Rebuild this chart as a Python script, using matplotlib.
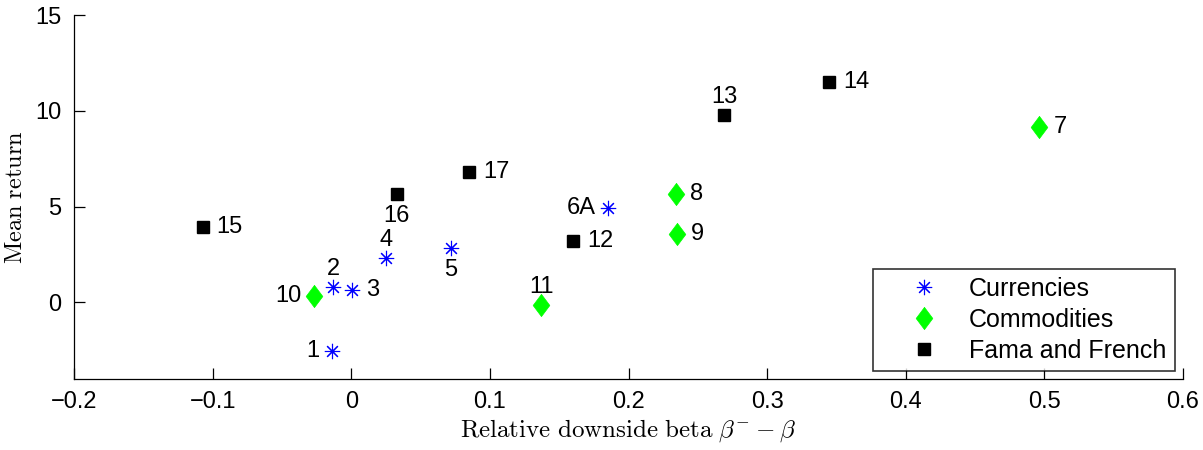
import matplotlib.pyplot as plt

plt.rcParams["font.family"] = ["Liberation Sans", "DejaVu Sans"]
plt.rcParams["mathtext.fontset"] = "cm"

# =========================================
# Data
# =========================================
cur_labels = ["1", "2", "3", "4", "5", "6A"]
cur_x = [-0.0137, -0.0132, 0.0005, 0.0248, 0.0717, 0.1854]
cur_y = [-2.52, 0.80, 0.66, 2.31, 2.85, 4.90]

com_labels = ["7", "8", "9", "10", "11"]
com_x = [0.4964, 0.2345, 0.2350, -0.0272, 0.1371]
com_y = [9.14, 5.65, 3.57, 0.31, -0.14]

ff_labels = ["12", "13", "14", "15", "16", "17"]
ff_x = [0.1602, 0.2690, 0.3449, -0.1073, 0.0327, 0.0849]
ff_y = [3.20, 9.78, 11.49, 3.91, 5.65, 6.78]

# where each label sits relative to its marker
label_side = {
    "1": "l", "2": "a", "3": "r", "4": "a", "5": "b", "6A": "l",
    "7": "r", "8": "r", "9": "r", "10": "l", "11": "a",
    "12": "r", "13": "a", "14": "r", "15": "r", "16": "b", "17": "r",
}
offsets = {
    "r": ((10, 0), "left", "center"),
    "l": ((-9, 0), "right", "center"),
    "a": ((0, 5), "center", "bottom"),
    "b": ((0, -8), "center", "top"),
}

# MATLAB-style diamond (wider than matplotlib's 'd')
diamond = [(0, 1), (0.75, 0), (0, -1), (-0.75, 0), (0, 1)]

# =========================================
# Plot
# =========================================
fig = plt.figure(figsize=(12.03, 4.5), dpi=100)
ax = fig.add_axes([74 / 1203, 71 / 450, 1109 / 1203, 364 / 450])

ax.plot(cur_x, cur_y, linestyle="none", marker=(8, 2, 0), markersize=11,
        markeredgewidth=0.8, color="#0000ff", label="Currencies")
ax.plot(com_x, com_y, linestyle="none", marker=diamond, markersize=16,
        color="#00ff00", markeredgecolor="#00ff00", markeredgewidth=0.5,
        label="Commodities")
ax.plot(ff_x, ff_y, linestyle="none", marker="s", markersize=8,
        color="black", label="Fama and French")

for labels, xs, ys in [(cur_labels, cur_x, cur_y), (com_labels, com_x, com_y),
                       (ff_labels, ff_x, ff_y)]:
    for lab, x, y in zip(labels, xs, ys):
        off, ha, va = offsets[label_side[lab]]
        ax.annotate(lab, (x, y), xytext=off, textcoords="offset points",
                    ha=ha, va=va, fontsize=17)

ax.set_xlim(-0.2, 0.6)
ax.set_ylim(-4, 15)
ax.set_xticks([-0.2, -0.1, 0, 0.1, 0.2, 0.3, 0.4, 0.5, 0.6])
ax.set_xticklabels(["\u22120.2", "\u22120.1", "0", "0.1", "0.2", "0.3", "0.4", "0.5", "0.6"])
ax.set_yticks([0, 5, 10, 15])

ax.spines["top"].set_visible(False)
ax.spines["right"].set_visible(False)
for s in ["left", "bottom"]:
    ax.spines[s].set_linewidth(0.9)
ax.tick_params(direction="in", length=8, width=0.9, labelsize=17, pad=9)

ax.set_xlabel(r"$\mathrm{Relative\ downside\ beta}\ \beta^{-}-\beta$", fontsize=18, labelpad=3)
ax.set_ylabel(r"$\mathrm{Mean\ return}$", fontsize=17.5, labelpad=6)

leg = ax.legend(loc="lower right", fontsize=18, frameon=True, fancybox=False,
                edgecolor="black", borderaxespad=0.33, handletextpad=0.07,
                borderpad=0.33, labelspacing=0.27, numpoints=1, handlelength=3.46)
leg.get_frame().set_linewidth(1.2)

fig.savefig("out.png", dpi=100)
